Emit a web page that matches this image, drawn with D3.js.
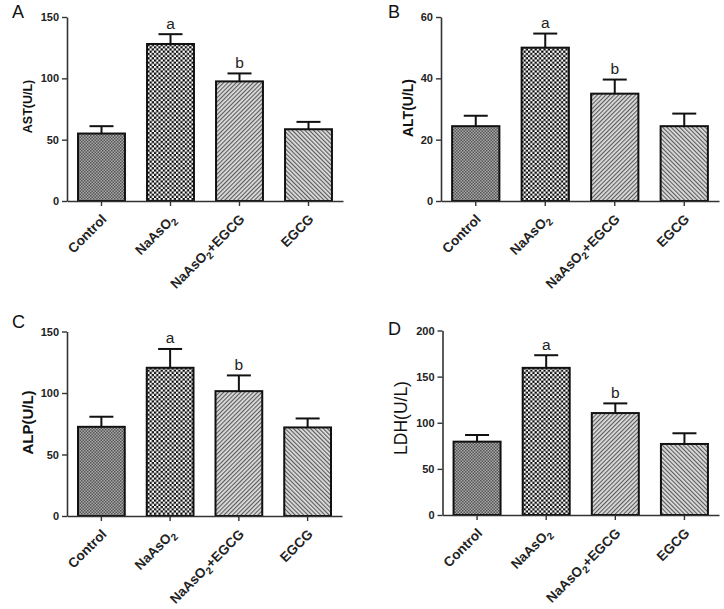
<!DOCTYPE html>
<html><head><meta charset="utf-8">
<script src="https://cdn.jsdelivr.net/npm/d3@7"></script>
<style>
html,body{margin:0;padding:0;background:#fff;}
svg{display:block;font-family:Arial,"Liberation Sans",sans-serif;}
</style></head>
<body>
<svg id="chart" width="724" height="609"></svg>
<script>
// ---- data ----
const categories = ["Control", "NaAsO2", "NaAsO2+EGCG", "EGCG"];
const sigLabels = ["", "a", "b", ""];

const astMean = [55, 128, 97.5, 58.5];
const astErr  = [6, 8, 6.5, 6];
const astTicks = [0, 50, 100, 150];

const altMean = [24.4, 50, 35, 24.4];
const altErr  = [3.4, 4.6, 4.6, 4.1];
const altTicks = [0, 20, 40, 60];

const alpMean = [72.5, 120.5, 101.5, 72];
const alpErr  = [8.2, 15.3, 12.8, 7.3];
const alpTicks = [0, 50, 100, 150];

const ldhMean = [79.5, 159.5, 110.5, 77];
const ldhErr  = [7.2, 13.7, 10.5, 11.6];
const ldhTicks = [0, 50, 100, 150, 200];

const panelLetters = ["A", "B", "C", "D"];
const panelTitles = ["AST(U/L)", "ALT(U/L)", "ALP(U/L)", "LDH(U/L)"];

// ---- layout ----
const layout = [
  {x0: 67,  x1: 343, yTop: 17,  yBot: 201, titleX: 32,  titleY: 106.5, titleSize: 12.5, titleBold: true,
   letterX: 12,  letterY: 18,  mean: astMean, err: astErr, ticks: astTicks},
  {x0: 441, x1: 719, yTop: 17,  yBot: 201, titleX: 412.5, titleY: 108, titleSize: 14, titleBold: true,
   letterX: 388, letterY: 18,  mean: altMean, err: altErr, ticks: altTicks},
  {x0: 67,  x1: 342, yTop: 331.5, yBot: 516, titleX: 33, titleY: 422.5, titleSize: 15, titleBold: true,
   letterX: 12, letterY: 328, mean: alpMean, err: alpErr, ticks: alpTicks},
  {x0: 442.5, x1: 719, yTop: 330.5, yBot: 515, titleX: 407, titleY: 418, titleSize: 17.5, titleBold: false,
   letterX: 388, letterY: 335, mean: ldhMean, err: ldhErr, ticks: ldhTicks}
];

const svg = d3.select("#chart");
const defs = svg.append("defs");

// patterns
const pc = defs.append("pattern").attr("id","pCtrl").attr("patternUnits","userSpaceOnUse").attr("width",3).attr("height",3);
pc.append("rect").attr("width",3).attr("height",3).attr("fill","#a8a8a8");
pc.append("rect").attr("width",1.5).attr("height",1.5).attr("fill","#555");
pc.append("rect").attr("x",1.5).attr("y",1.5).attr("width",1.5).attr("height",1.5).attr("fill","#555");

const pn = defs.append("pattern").attr("id","pNa").attr("patternUnits","userSpaceOnUse").attr("width",4.4).attr("height",4.4);
pn.append("rect").attr("width",4.4).attr("height",4.4).attr("fill","#0a0a0a");
pn.append("rect").attr("width",2.2).attr("height",2.2).attr("fill","#ffffff");
pn.append("rect").attr("x",2.2).attr("y",2.2).attr("width",2.2).attr("height",2.2).attr("fill","#ffffff");

function hatch(id, angle){
  const p = defs.append("pattern").attr("id",id).attr("patternUnits","userSpaceOnUse")
    .attr("width",3).attr("height",3).attr("patternTransform",`rotate(${angle})`);
  p.append("rect").attr("width",3).attr("height",3).attr("fill","#dcdcdc");
  p.append("rect").attr("width",1.1).attr("height",3).attr("fill","#5a5a5a");
}
hatch("pHatchR", 45);
hatch("pHatchL", -45);
const fills = ["url(#pCtrl)", "url(#pNa)", "url(#pHatchR)", "url(#pHatchL)"];

layout.forEach((L, pi) => {
  const g = svg.append("g");
  const x = d3.scaleBand().domain(categories).range([L.x0, L.x1]).paddingInner(0.32).paddingOuter(0.16);
  const y = d3.scaleLinear().domain([0, d3.max(L.ticks)]).range([L.yBot, L.yTop]);
  const data = categories.map((c, i) => ({c, m: L.mean[i], e: L.err[i], s: sigLabels[i], f: fills[i]}));

  // error bars (upward only)
  const eb = g.append("g").attr("stroke","#111").attr("stroke-width",2).attr("fill","none");
  data.forEach(d => {
    const cx = x(d.c) + x.bandwidth()/2;
    eb.append("line").attr("x1",cx).attr("x2",cx).attr("y1",y(d.m)).attr("y2",y(d.m + d.e));
    eb.append("line").attr("x1",cx-12).attr("x2",cx+12).attr("y1",y(d.m + d.e)).attr("y2",y(d.m + d.e));
  });

  // bars
  g.append("g").selectAll("rect").data(data).join("rect")
    .attr("x", d => x(d.c)).attr("width", x.bandwidth())
    .attr("y", d => y(d.m)).attr("height", d => y(0) - y(d.m))
    .attr("fill", d => d.f).attr("stroke","#111").attr("stroke-width",2);

  // significance letters
  g.append("g").selectAll("text").data(data.filter(d => d.s)).join("text")
    .attr("x", d => x(d.c) + x.bandwidth()/2).attr("y", d => y(d.m + d.e) - 5.5)
    .attr("text-anchor","middle").attr("font-size",15.5).attr("fill","#222").text(d => d.s);

  // y axis
  const ya = g.append("g").attr("transform",`translate(${L.x0},0)`)
    .call(d3.axisLeft(y).tickValues(L.ticks).tickSize(5).tickSizeOuter(0).tickPadding(3));
  ya.select(".domain").attr("stroke","#333").attr("stroke-width",1.6);
  ya.selectAll(".tick line").attr("stroke","#333").attr("stroke-width",1.4);
  ya.selectAll(".tick text").attr("font-size",11).attr("font-weight","bold").attr("fill","#222")
    .attr("font-family","Arial, 'Liberation Sans', sans-serif");

  // x axis
  const xa = g.append("g").attr("transform",`translate(0,${L.yBot})`)
    .call(d3.axisBottom(x).tickSize(5).tickSizeOuter(0));
  xa.select(".domain").attr("stroke","#333").attr("stroke-width",1.6);
  xa.selectAll(".tick line").attr("stroke","#333").attr("stroke-width",1.4);
  xa.selectAll(".tick text").remove();

  // rotated category labels
  categories.forEach(c => {
    const cx = x(c) + x.bandwidth()/2 + 6;
    const cy = L.yBot + 19;
    const t = g.append("text").attr("transform",`translate(${cx},${cy}) rotate(-45)`)
      .attr("text-anchor","end").attr("font-size",13.5).attr("font-weight","bold").attr("fill","#222");
    if (c.startsWith("NaAsO2")) {
      t.append("tspan").text("NaAsO");
      t.append("tspan").attr("font-size",10).attr("dy",3.5).text("2");
      const rest = c.slice(6);
      if (rest) t.append("tspan").attr("dy",-3.5).text(rest);
    } else {
      t.text(c);
    }
  });

  // y title
  g.append("text").attr("transform",`translate(${L.titleX},${L.titleY}) rotate(-90)`)
    .attr("text-anchor","middle").attr("font-size", L.titleSize)
    .attr("font-weight", L.titleBold ? "bold" : "normal").attr("fill","#111").text(panelTitles[pi]);

  // panel letter
  g.append("text").attr("x",L.letterX).attr("y",L.letterY).attr("font-size",18).attr("fill","#111").text(panelLetters[pi]);
});
</script>
</body></html>
